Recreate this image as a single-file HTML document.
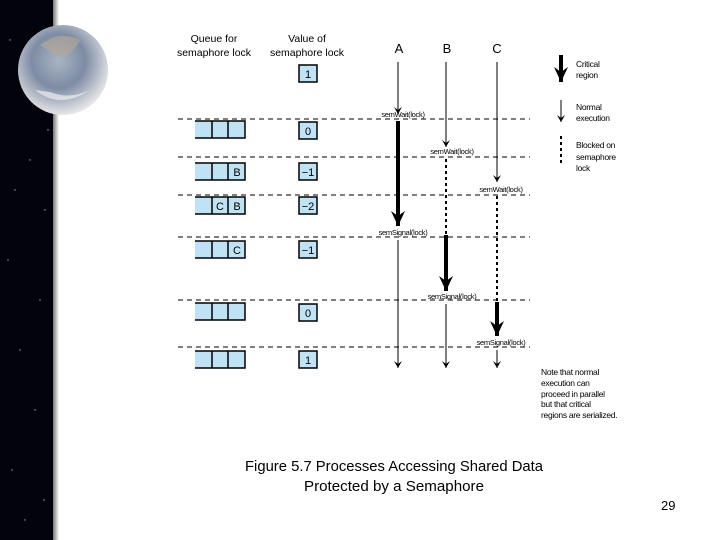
<!DOCTYPE html>
<html><head><meta charset="utf-8"><style>
html,body{margin:0;padding:0;background:#fff;width:720px;height:540px;overflow:hidden}
svg{display:block}
text{font-family:"Liberation Sans",sans-serif;fill:#000}
</style></head><body>
<svg width="720" height="540" viewBox="0 0 720 540" xmlns="http://www.w3.org/2000/svg">
<defs>
<linearGradient id="sh" x1="0" x2="1"><stop offset="0" stop-color="#777"/><stop offset="1" stop-color="#fff"/></linearGradient>
<radialGradient id="earth" cx="0.45" cy="0.4" r="0.6">
<stop offset="0" stop-color="#aab4c4"/><stop offset="0.5" stop-color="#7d8ca4"/><stop offset="0.85" stop-color="#c8ccd4"/><stop offset="1" stop-color="#e6e6e8"/></radialGradient>
<marker id="ta" markerWidth="8" markerHeight="8" refX="7" refY="4" orient="auto" markerUnits="userSpaceOnUse"><path d="M0,0 L7,4 L0,8 L3,4z" fill="#000"/></marker>
<marker id="TA" markerWidth="16" markerHeight="14" refX="15" refY="7" orient="auto" markerUnits="userSpaceOnUse"><path d="M0,0 L15,7 L0,14 L5,7z" fill="#000"/></marker>
<g id="q">
<rect x="195" y="0" width="50" height="17" fill="#bfe3f5"/>
<path d="M195,0H245V17H195M212,0V17M228,0V17" fill="none" stroke="#000" stroke-width="1.5"/>
</g>
</defs>
<rect x="0" y="0" width="54" height="540" fill="#03030c"/>
<rect x="53" y="0" width="6" height="540" fill="url(#sh)"/>
<g fill="#ccd" opacity="0.8">
<circle cx="10" cy="40" r="0.7"/><circle cx="30" cy="160" r="0.7"/><circle cx="45" cy="210" r="0.7"/><circle cx="8" cy="260" r="0.7"/><circle cx="40" cy="300" r="0.7"/><circle cx="20" cy="350" r="0.7"/><circle cx="35" cy="410" r="0.7"/><circle cx="12" cy="470" r="0.7"/><circle cx="44" cy="500" r="0.7"/><circle cx="25" cy="520" r="0.7"/><circle cx="48" cy="130" r="0.7"/><circle cx="15" cy="190" r="0.7"/>
</g>
<circle cx="63" cy="70" r="45" fill="url(#earth)"/>
<path d="M40,45 Q60,30 80,40 Q70,60 55,55z" fill="#b8a894" opacity="0.6"/>
<path d="M35,90 Q60,110 90,90 Q70,100 50,92z" fill="#eee" opacity="0.7"/>

<g font-size="10.5" text-anchor="middle">
<text x="214" y="42">Queue for</text><text x="214" y="56">semaphore lock</text>
<text x="307" y="42">Value of</text><text x="307" y="56">semaphore lock</text>
</g>
<g font-size="13" text-anchor="middle"><text x="399" y="53">A</text><text x="447" y="53">B</text><text x="497" y="53">C</text></g>

<g stroke="#000" stroke-width="1" stroke-dasharray="5,4">
<line x1="178" y1="119" x2="530" y2="119"/><line x1="178" y1="157" x2="530" y2="157"/>
<line x1="178" y1="195" x2="530" y2="195"/><line x1="178" y1="237" x2="530" y2="237"/>
<line x1="178" y1="300" x2="530" y2="300"/><line x1="178" y1="347" x2="530" y2="347"/>
</g>

<g stroke="#000" stroke-width="1.5" fill="#bfe3f5">
<rect x="299" y="65" width="18" height="17"/>
<rect x="299" y="122" width="18" height="17"/><rect x="299" y="163" width="18" height="17"/>
<rect x="299" y="197" width="18" height="17"/><rect x="299" y="241" width="18" height="17"/>
<rect x="299" y="304" width="18" height="17"/><rect x="299" y="351" width="18" height="17"/>
</g>
<g font-size="11" text-anchor="middle">
<text x="308" y="78">1</text><text x="308" y="135">0</text><text x="308" y="176">−1</text><text x="308" y="210">−2</text><text x="308" y="254">−1</text><text x="308" y="317">0</text><text x="308" y="364">1</text>
</g>

<use href="#q" y="121"/><use href="#q" y="163"/><use href="#q" y="197"/><use href="#q" y="241"/><use href="#q" y="303"/><use href="#q" y="351"/>
<g font-size="11" text-anchor="middle">
<text x="237" y="176">B</text><text x="220" y="210">C</text><text x="237" y="210">B</text><text x="237" y="254">C</text>
</g>

<g stroke="#000" fill="none">
<line x1="398" y1="62" x2="398" y2="114" marker-end="url(#ta)"/>
<line x1="398" y1="121" x2="398" y2="226" stroke-width="4" marker-end="url(#TA)"/>
<line x1="398" y1="240" x2="398" y2="368" marker-end="url(#ta)"/>
<line x1="446" y1="62" x2="446" y2="147" marker-end="url(#ta)"/>
<line x1="446" y1="159" x2="446" y2="235" stroke-width="2" stroke-dasharray="3,3"/>
<line x1="446" y1="235" x2="446" y2="291" stroke-width="4" marker-end="url(#TA)"/>
<line x1="446" y1="304" x2="446" y2="368" marker-end="url(#ta)"/>
<line x1="497" y1="62" x2="497" y2="182" marker-end="url(#ta)"/>
<line x1="497" y1="196" x2="497" y2="302" stroke-width="2" stroke-dasharray="3,3"/>
<line x1="497" y1="302" x2="497" y2="336" stroke-width="4" marker-end="url(#TA)"/>
<line x1="497" y1="350" x2="497" y2="368" marker-end="url(#ta)"/>
<line x1="561" y1="55" x2="561" y2="82" stroke-width="4" marker-end="url(#TA)"/>
<line x1="561" y1="100" x2="561" y2="122" marker-end="url(#ta)"/>
<line x1="561" y1="136" x2="561" y2="164" stroke-width="2" stroke-dasharray="3,3"/>
</g>

<g font-size="7.5" text-anchor="middle" letter-spacing="-0.3">
<text x="403" y="117">semWait(lock)</text>
<text x="452" y="154">semWait(lock)</text>
<text x="501" y="192">semWait(lock)</text>
<text x="403" y="235">semSignal(lock)</text>
<text x="452" y="299">semSignal(lock)</text>
<text x="501" y="345">semSignal(lock)</text>
</g>
<g font-size="8.5" letter-spacing="-0.3">
<text x="576" y="67">Critical</text><text x="576" y="78">region</text>
<text x="576" y="110">Normal</text><text x="576" y="121">execution</text>
<text x="576" y="148">Blocked on</text><text x="576" y="160">semaphore</text><text x="576" y="171">lock</text>
<text x="541" y="375">Note that normal</text><text x="541" y="386">execution can</text>
<text x="541" y="397">proceed in parallel</text><text x="541" y="407">but that critical</text>
<text x="541" y="418">regions are serialized.</text>
</g>
<text x="245" y="471" font-size="15" textLength="298" lengthAdjust="spacingAndGlyphs">Figure 5.7  Processes Accessing Shared Data</text>
<text x="304" y="491" font-size="15" textLength="180" lengthAdjust="spacingAndGlyphs">Protected by a Semaphore</text>
<text x="661" y="510" font-size="13" fill="#222">29</text>
</svg>
</body></html>
